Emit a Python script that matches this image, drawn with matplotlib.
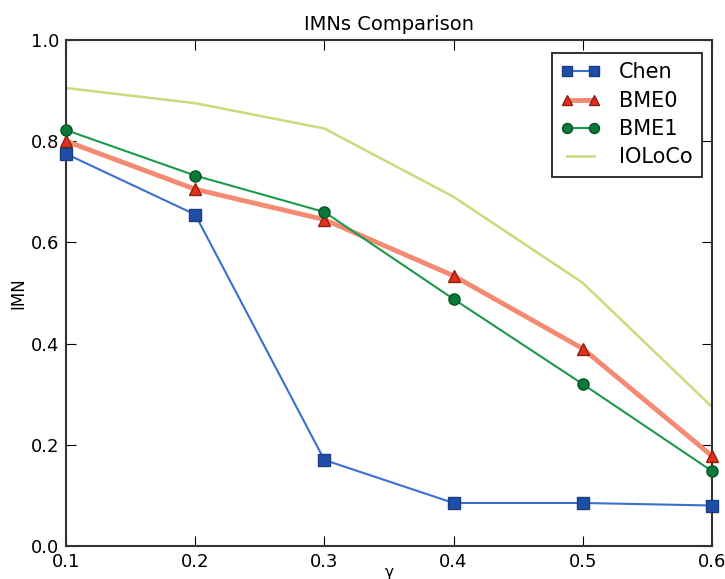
import matplotlib
matplotlib.use("Agg")
import matplotlib.pyplot as plt

gamma = [0.1, 0.2, 0.3, 0.4, 0.5, 0.6]
chen = [0.775, 0.655, 0.17, 0.085, 0.085, 0.08]
bme0 = [0.80, 0.705, 0.645, 0.534, 0.39, 0.178]
bme1 = [0.822, 0.732, 0.66, 0.488, 0.32, 0.148]
ioloco = [0.905, 0.875, 0.825, 0.69, 0.52, 0.275]

fig = plt.figure(figsize=(7.25, 5.79), dpi=100)
ax = fig.add_axes([0.091, 0.057, 0.891, 0.874])

ax.plot(gamma, chen, color="#3a6fd0", lw=1.5, marker="s", ms=8,
        mfc="#1f4ea8", mec="#1a3f80", label="Chen", clip_on=False, zorder=4)
ax.plot(gamma, bme0, color="#f58a72", lw=3.5, marker="^", ms=8,
        mfc="#e0301e", mec="#902010", label="BME0", clip_on=False, zorder=3)
ax.plot(gamma, bme1, color="#1a9a4a", lw=1.5, marker="o", ms=8,
        mfc="#0a7a3a", mec="#064f25", label="BME1", clip_on=False, zorder=3)
ax.plot(gamma, ioloco, color="#cdd97a", lw=1.8, label="IOLoCo", zorder=2)

ax.set_xlim(0.1, 0.6)
ax.set_ylim(0.0, 1.0)
ax.set_xticks(gamma)
ax.set_yticks([0.0, 0.2, 0.4, 0.6, 0.8, 1.0])
ax.tick_params(direction="in", length=7, labelsize=13, top=True, right=True, pad=5)
for s in ax.spines.values():
    s.set_linewidth(1.5)
    s.set_color("#333333")

ax.set_title("IMNs Comparison", fontsize=14, pad=7)
ax.set_ylabel("IMN", fontsize=12, labelpad=2)
ax.set_xlabel("γ", fontsize=11, labelpad=-4)

leg = ax.legend(loc="upper right", fontsize=15, fancybox=False, framealpha=1,
                edgecolor="#222222", borderpad=0.45, labelspacing=0.4,
                handlelength=1.9, handletextpad=0.9, borderaxespad=0,
                bbox_to_anchor=(0.985, 0.974), numpoints=2, markerscale=0.9)
leg.get_frame().set_linewidth(1.3)

fig.savefig("out.png", dpi=100)
